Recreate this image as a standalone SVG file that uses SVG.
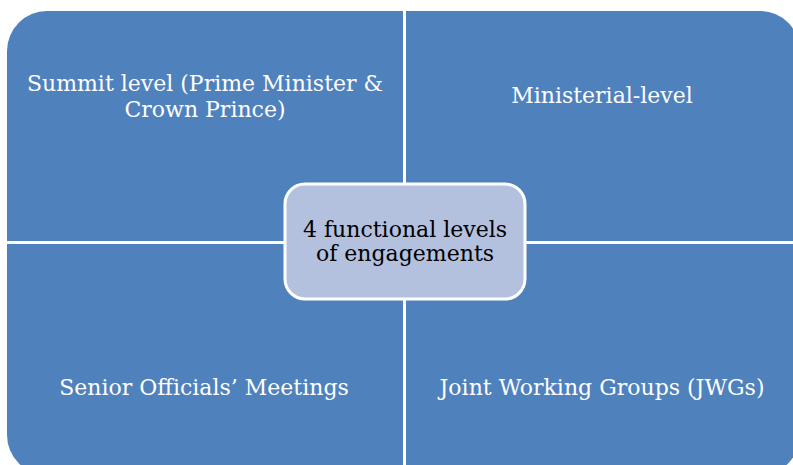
<svg xmlns="http://www.w3.org/2000/svg" width="793" height="465" viewBox="0 0 793 465">
<style>
.q{fill:#4f81bd}
.qt{font-family:"DejaVu Serif",Georgia,serif;font-size:22px;fill:#ffffff;text-anchor:middle}
.ct{font-family:"DejaVu Serif",Georgia,serif;font-size:22px;fill:#000000;text-anchor:middle}
</style>
<rect width="793" height="465" fill="#ffffff"/>
<g id="summit">
<path class="q" d="M7,51 A40,40 0 0 1 47,11 H403 V241 H7 Z"/>
<text class="qt" x="205" y="91">Summit level (Prime Minister &amp;</text>
<text class="qt" x="205" y="117">Crown Prince)</text>
</g>
<g id="ministerial">
<path class="q" d="M406,11 H760 A40,40 0 0 1 800,51 V241 H406 Z"/>
<text class="qt" x="602" y="103">Ministerial-level</text>
</g>
<g id="senior">
<path class="q" d="M7,244 H403 V475 H47 A40,40 0 0 1 7,435 Z"/>
<text class="qt" x="204" y="395">Senior Officials’ Meetings</text>
</g>
<g id="jwg">
<path class="q" d="M406,244 H800 V435 A40,40 0 0 1 760,475 H406 Z"/>
<text class="qt" x="602" y="395">Joint Working Groups (JWGs)</text>
</g>
<g id="connectors"></g>
<g id="center">
<rect x="285" y="184" width="240" height="115" rx="20" ry="20" fill="#b3c1de" stroke="#ffffff" stroke-width="3"/>
<text class="ct" x="405" y="237">4 functional levels</text>
<text class="ct" x="405" y="261">of engagements</text>
</g>
</svg>
